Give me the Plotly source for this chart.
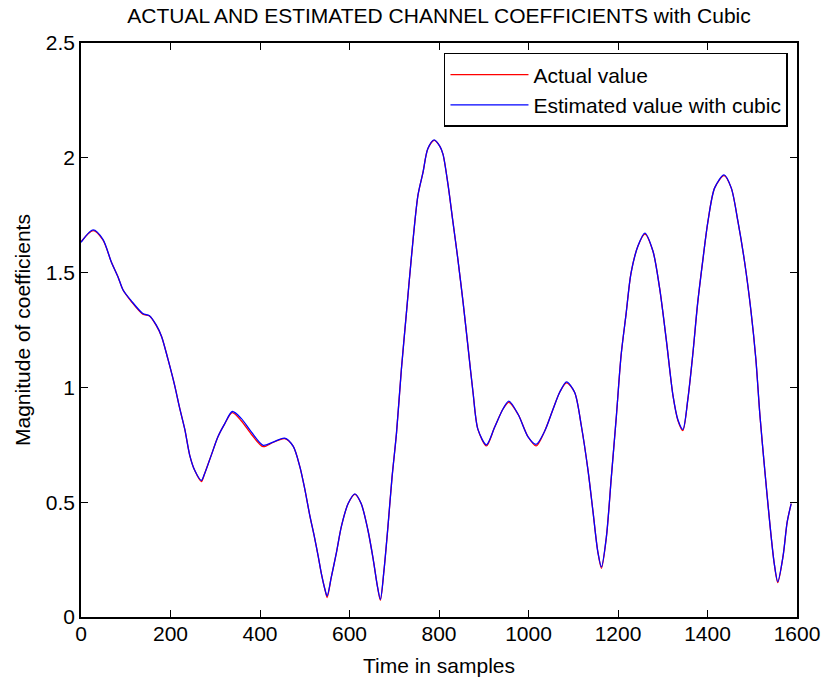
import plotly.graph_objects as go

# sample index positions
t_samples = [0, 27, 49, 68, 83, 94, 112, 138, 153, 168, 180, 194, 209, 220, 232, 243, 254,
             269, 276, 291, 306, 321, 338, 358, 381, 407, 429, 455, 474, 489, 500, 511, 522,
             530, 537, 545, 550, 559, 571, 582, 597, 612, 626, 641, 653, 662, 669, 677, 686,
             695, 705, 716, 727, 738, 753, 764, 775, 789, 802, 809, 820, 831, 842, 854, 865,
             876, 887, 906, 924, 943, 956, 977, 999, 1017, 1036, 1055, 1070, 1085, 1103, 1118,
             1133, 1144, 1155, 1163, 1174, 1185, 1196, 1207, 1218, 1229, 1245, 1260, 1278,
             1293, 1308, 1323, 1334, 1345, 1356, 1367, 1378, 1390, 1401, 1416, 1437, 1453,
             1468, 1483, 1497, 1508, 1517, 1528, 1539, 1549, 1557, 1569, 1578, 1587]

actual_value = [1.634, 1.683, 1.642, 1.545, 1.48, 1.424, 1.375, 1.319, 1.311, 1.27, 1.222,
                1.125, 1.011, 0.914, 0.817, 0.704, 0.639, 0.59, 0.623, 0.704, 0.785, 0.841,
                0.89, 0.855, 0.795, 0.742, 0.76, 0.777, 0.744, 0.655, 0.558, 0.445, 0.345,
                0.265, 0.19, 0.121, 0.085, 0.17, 0.283, 0.396, 0.494, 0.534, 0.494, 0.38,
                0.251, 0.138, 0.073, 0.202, 0.396, 0.607, 0.801, 1.08, 1.32, 1.56, 1.837,
                1.934, 2.039, 2.076, 2.05, 2.015, 1.885, 1.723, 1.561, 1.367, 1.173, 0.979,
                0.817, 0.745, 0.825, 0.906, 0.935, 0.882, 0.785, 0.745, 0.809, 0.906, 0.98,
                1.02, 0.979, 0.833, 0.639, 0.461, 0.283, 0.212, 0.348, 0.607, 0.866, 1.141,
                1.319, 1.497, 1.618, 1.668, 1.594, 1.432, 1.206, 0.963, 0.855, 0.812, 0.947,
                1.141, 1.367, 1.561, 1.723, 1.869, 1.922, 1.869, 1.723, 1.545, 1.335, 1.125,
                0.882, 0.639, 0.413, 0.235, 0.15, 0.267, 0.413, 0.494]

estimated_value = [1.632, 1.686, 1.645, 1.545, 1.48, 1.424, 1.378, 1.322, 1.312, 1.272, 1.222,
                   1.125, 1.011, 0.914, 0.817, 0.704, 0.639, 0.595, 0.623, 0.704, 0.785, 0.841,
                   0.895, 0.865, 0.805, 0.748, 0.762, 0.779, 0.744, 0.655, 0.558, 0.445, 0.345,
                   0.265, 0.19, 0.121, 0.092, 0.17, 0.283, 0.396, 0.494, 0.536, 0.494, 0.38,
                   0.251, 0.138, 0.077, 0.202, 0.396, 0.607, 0.801, 1.08, 1.32, 1.56, 1.837,
                   1.934, 2.039, 2.078, 2.05, 2.015, 1.885, 1.723, 1.561, 1.367, 1.173, 0.979,
                   0.817, 0.75, 0.825, 0.906, 0.94, 0.882, 0.785, 0.752, 0.809, 0.906, 0.98,
                   1.024, 0.979, 0.833, 0.639, 0.461, 0.283, 0.218, 0.348, 0.607, 0.866, 1.141,
                   1.319, 1.497, 1.618, 1.672, 1.594, 1.432, 1.206, 0.963, 0.858, 0.817, 0.947,
                   1.141, 1.367, 1.561, 1.723, 1.869, 1.926, 1.869, 1.723, 1.545, 1.335, 1.125,
                   0.882, 0.639, 0.413, 0.235, 0.154, 0.267, 0.413, 0.494]

x_ticks = [0, 200, 400, 600, 800, 1000, 1200, 1400, 1600]
y_ticks = [0, 0.5, 1, 1.5, 2, 2.5]
y_tick_labels = ["0", "0.5", "1", "1.5", "2", "2.5"]

FONT = "Liberation Sans, Arial, sans-serif"

fig = go.Figure()
fig.add_trace(go.Scatter(x=t_samples, y=actual_value, mode="lines", name="Actual value",
                         line=dict(color="#ff0000", width=1.3, shape="spline", smoothing=0.8)))
fig.add_trace(go.Scatter(x=t_samples, y=estimated_value, mode="lines",
                         name="Estimated value with cubic",
                         line=dict(color="#0000ff", width=1.3, shape="spline", smoothing=0.8)))

axis_common = dict(showline=True, linecolor="black", linewidth=1.5, mirror="ticks",
                   ticks="inside", ticklen=7, tickwidth=1, tickcolor="black",
                   showgrid=False, zeroline=False, automargin=False,
                   tickfont=dict(family=FONT, size=21, color="black"))

fig.update_xaxes(range=[0, 1600], tickvals=x_ticks, ticklabelstandoff=-3,
                 title=dict(text="Time in samples", font=dict(family=FONT, size=21, color="black"),
                            standoff=14),
                 **axis_common)
fig.update_yaxes(range=[0, 2.5], tickvals=y_ticks, ticktext=y_tick_labels, **axis_common)

fig.add_annotation(text="Magnitude of coefficients", textangle=-90,
                   xref="paper", yref="paper", x=-59 / 716, y=0.5,
                   xanchor="center", yanchor="middle", showarrow=False,
                   font=dict(family=FONT, size=21, color="black"))

fig.update_layout(
    width=823, height=684,
    margin=dict(l=81, r=26, t=43, b=67, pad=0, autoexpand=False),
    paper_bgcolor="white", plot_bgcolor="white",
    title=dict(text="ACTUAL AND ESTIMATED CHANNEL COEFFICIENTS with Cubic",
               font=dict(family=FONT, size=21, color="black"),
               x=0.5, xanchor="center", xref="paper",
               y=1 - 16 / 684, yanchor="middle", yref="container", automargin=False),
    legend=dict(x=0.9874, y=0.9826, xanchor="right", yanchor="top",
                bgcolor="white", bordercolor="black", borderwidth=1.5,
                font=dict(family=FONT, size=21, color="black"),
                itemwidth=78, tracegroupgap=0),
    showlegend=True,
)

fig.write_html("out.html", config={"displayModeBar": False},
               post_script="document.body.style.margin='0';document.body.style.padding='0';")
